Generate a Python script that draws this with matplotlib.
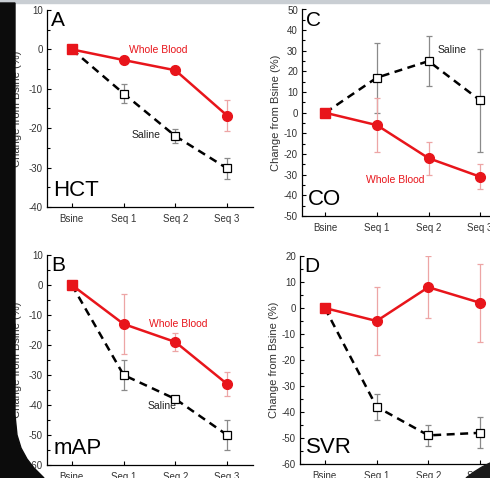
import matplotlib
matplotlib.use('Agg')
from matplotlib import pyplot as plt
from matplotlib.patches import Rectangle, Polygon
from matplotlib.ticker import MultipleLocator

plt.rcParams['font.family'] = ['Liberation Sans', 'DejaVu Sans']
plt.rcParams['axes.unicode_minus'] = False

categories = ['Bsine', 'Seq 1', 'Seq 2', 'Seq 3']

# HCT
hct_blood = [0, -2.7, -5.3, -16.8]
hct_blood_err = [0, 1.0, 1.0, 4.0]
hct_saline = [0, -11.2, -22.0, -30.2]
hct_saline_err = [0, 2.5, 1.7, 2.7]

# CO
co_blood = [0, -6, -22, -31]
co_blood_err = [0, 13, 8, 6]
co_saline = [0, 17, 25, 6]
co_saline_err = [0, 17, 12, 25]

# mAP
map_blood = [0, -13, -19, -33]
map_blood_err = [0, 10, 3, 4]
map_saline = [0, -30, -38, -50]
map_saline_err = [0, 5, 0.6, 5]

# SVR
svr_blood = [0, -5, 8, 2]
svr_blood_err = [0, 13, 12, 15]
svr_saline = [0, -38, -49, -48]
svr_saline_err = [0, 5, 4, 6]

W, H = 490, 478
fig = plt.figure(figsize=(W / 100, H / 100), dpi=100)
fig.patch.set_facecolor('white')


def box(left, top, right, bottom):
    return [left / W, 1 - bottom / H, (right - left) / W, (bottom - top) / H]


def panel(rect, xlo, ylim, ystep, blood, blood_err, saline, saline_err,
          letter, name, pad, blood_lbl=None, saline_lbl=None):
    ax = fig.add_axes(rect)
    x = list(range(len(categories)))
    ax.errorbar(x[1:], saline[1:], yerr=saline_err[1:], fmt='none',
                ecolor='#8a8a8a', elinewidth=0.9, capsize=2.5, capthick=0.9, zorder=2)
    ax.errorbar(x[1:], blood[1:], yerr=blood_err[1:], fmt='none',
                ecolor='#eda5a5', elinewidth=0.9, capsize=2.5, capthick=0.9, zorder=2)
    ax.plot(x, saline, color='black', ls=(0, (3.2, 2.2)), lw=1.8, zorder=3)
    ax.plot(x[1:], saline[1:], 's', ms=6, mfc='white', mec='black', mew=0.9, zorder=4)
    ax.plot(x, blood, color='#e8151b', lw=1.8, zorder=5)
    ax.plot(x[1:], blood[1:], 'o', ms=7, color='#e8151b', zorder=6)
    ax.plot(x[0], blood[0], 's', ms=6.5, color='#e8151b', zorder=6)

    ax.set_xlim(xlo, 3.5)
    ax.set_ylim(*ylim)
    ax.set_xticks(x)
    ax.set_xticklabels(categories, fontsize=7)
    ax.yaxis.set_major_locator(MultipleLocator(ystep))
    ax.yaxis.set_minor_locator(MultipleLocator(ystep / 2))
    ax.tick_params(axis='both', which='major', direction='in', length=3, width=0.8,
                   labelsize=7, pad=3, labelcolor='#333333')
    ax.tick_params(axis='y', which='minor', direction='in', length=2, width=0.8)
    ax.tick_params(axis='x', which='major', pad=5)
    for s in ['top', 'right']:
        ax.spines[s].set_visible(False)
    for s in ['left', 'bottom']:
        ax.spines[s].set_linewidth(0.9)
    ax.set_ylabel('Change from Bsine (%)', fontsize=8, labelpad=pad, color='#333333')
    ax.text(0.02, 0.995, letter, transform=ax.transAxes, fontsize=15,
            ha='left', va='top')
    ax.text(0.03, 0.03, name, transform=ax.transAxes, fontsize=16,
            ha='left', va='bottom')
    if blood_lbl:
        ax.text(*blood_lbl, 'Whole Blood', color='#e8151b', fontsize=7.5,
                ha='center', va='center')
    if saline_lbl:
        ax.text(*saline_lbl, 'Saline', color='#222222', fontsize=7.5,
                ha='center', va='center')
    return ax


panel(box(47, 10, 253, 207), -0.48, (-40, 10), 10,
      hct_blood, hct_blood_err, hct_saline, hct_saline_err,
      'A', 'HCT', 5, blood_lbl=(1.66, -0.2), saline_lbl=(1.43, -21.8))
panel(box(302, 9.5, 506, 216), -0.45, (-50, 50), 10,
      co_blood, co_blood_err, co_saline, co_saline_err,
      'C', 'CO', 2, blood_lbl=(1.35, -32.5), saline_lbl=(2.46, 30.3))
panel(box(47, 255, 253, 465), -0.48, (-60, 10), 10,
      map_blood, map_blood_err, map_saline, map_saline_err,
      'B', 'mAP', 5, blood_lbl=(2.05, -12.9), saline_lbl=(1.74, -40.4))
panel(box(300, 256, 506, 464), -0.48, (-60, 20), 10,
      svr_blood, svr_blood_err, svr_saline, svr_saline_err,
      'D', 'SVR', 2)

# slide frame around the figure
def px(pts):
    return [(a / W, 1 - b / H) for a, b in pts]


fig.patches.append(Rectangle((0, 1 - 3 / H), 1, 3 / H, transform=fig.transFigure,
                             color='#c9ced3', zorder=20))
fig.patches.append(Polygon(px([(0, 3), (15, 3), (15, 415), (17, 435), (21, 448),
                               (27, 459), (34, 468), (44, 478), (0, 478)]),
                           closed=True, transform=fig.transFigure,
                           color='#0c0c0c', zorder=20))
fig.patches.append(Polygon(px([(466, 478), (474, 472), (482, 467), (490, 463),
                               (490, 478)]),
                           closed=True, transform=fig.transFigure,
                           color='#1a1a1a', zorder=20))

fig.savefig('out.png', dpi=100)
